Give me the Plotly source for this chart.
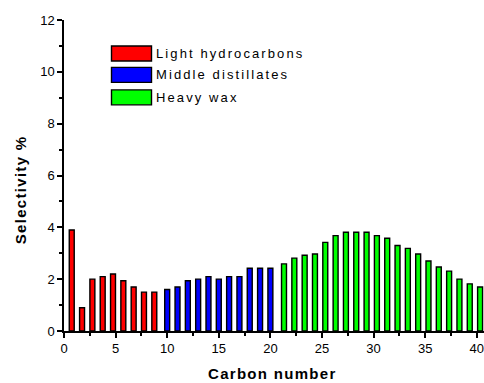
import plotly.graph_objects as go

# Data
light_x = [1, 2, 3, 4, 5, 6, 7, 8, 9]
light_y = [3.9, 0.9, 2.0, 2.1, 2.2, 1.94, 1.7, 1.5, 1.5]
middle_x = [10, 11, 12, 13, 14, 15, 16, 17, 18, 19, 20]
middle_y = [1.6, 1.7, 1.94, 2.0, 2.1, 2.0, 2.1, 2.1, 2.42, 2.42, 2.42]
heavy_x = list(range(21, 41))
heavy_y = [2.59, 2.81, 2.92, 2.97, 3.42, 3.68, 3.81, 3.81, 3.81, 3.68,
           3.58, 3.30, 3.19, 2.97, 2.70, 2.47, 2.31, 2.0, 1.82, 1.70]
series_names = ["Light hydrocarbons", "Middle distillates", "Heavy wax"]
series_colors = ["#FF0000", "#0000FF", "#00FF00"]

FONT = "Liberation Sans, Arial, sans-serif"
W = 0.48

fig = go.Figure()
for (xs, ys), name, col, shift in zip(
        [(light_x, light_y), (middle_x, middle_y), (heavy_x, heavy_y)],
        series_names, series_colors, [-0.25, 0.0, 0.32]):
    fig.add_trace(go.Bar(
        x=xs, y=ys, name=name, width=W, offset=-W / 2 + shift,
        marker=dict(color=col, line=dict(color="black", width=1.4)),
        showlegend=False))

def spaced(t, ls):
    return f'<span style="letter-spacing:{ls}px">{t}</span>'

# pixel geometry of the plot area
plot_l, plot_r, plot_t, plot_b = 64, 484, 19.5, 331
def px2paper_x(px):
    return (px - plot_l) / (plot_r - plot_l)
def px2paper_y(py):
    return (plot_b - py) / (plot_b - plot_t)

# Manual legend (wide swatches as in the original)
x0, x1 = 111.5, 151.5
for (yc, name, col) in zip([53, 74.5, 97], series_names, series_colors):
    fig.add_shape(type="rect", xref="paper", yref="paper",
                  x0=px2paper_x(x0), x1=px2paper_x(x1),
                  y0=px2paper_y(yc + 7.5), y1=px2paper_y(yc - 7.5),
                  fillcolor=col, line=dict(color="black", width=1.4))
    fig.add_annotation(xref="paper", yref="paper",
                       x=px2paper_x(154), y=px2paper_y(yc),
                       xanchor="left", yanchor="middle", showarrow=False,
                       text=spaced(name, 2.1), font=dict(family=FONT, size=13, color="black"))

# Axis titles
fig.add_annotation(xref="paper", yref="paper", x=px2paper_x(272), y=px2paper_y(374),
                   xanchor="center", yanchor="middle", showarrow=False,
                   text=spaced("<b>Carbon number</b>", 1.3),
                   font=dict(family=FONT, size=15, color="black"))
fig.add_annotation(xref="paper", yref="paper", x=px2paper_x(20), y=px2paper_y(190),
                   xanchor="center", yanchor="middle", showarrow=False, textangle=-90,
                   text=spaced("<b>Selectivity %</b>", 1.3),
                   font=dict(family=FONT, size=15, color="black"))

fig.update_layout(
    template="none",
    width=484, height=383,
    margin=dict(l=plot_l, r=484 - plot_r, t=plot_t, b=383 - plot_b, pad=0,
                autoexpand=False),
    paper_bgcolor="white", plot_bgcolor="white",
    barmode="overlay",
    font=dict(family=FONT, size=13, color="black"),
    xaxis=dict(range=[0, 40.7], tickmode="linear", tick0=0, dtick=5, automargin=False,
               ticklabeloverflow="allow",
               showline=True, linecolor="black", linewidth=1.5,
               ticks="outside", ticklen=5, tickwidth=1.5, tickcolor="black",
               minor=dict(dtick=2.5, ticks="outside", ticklen=3, tickwidth=1.5, tickcolor="black"),
               showgrid=False, zeroline=False,
               tickfont=dict(family=FONT, size=13)),
    yaxis=dict(range=[0, 12], tickmode="linear", tick0=0, dtick=2, automargin=False,
               ticklabeloverflow="allow",
               showline=True, linecolor="black", linewidth=1.5,
               ticks="outside", ticklen=5, tickwidth=1.5, tickcolor="black",
               minor=dict(dtick=1, ticks="outside", ticklen=3, tickwidth=1.5, tickcolor="black"),
               showgrid=False, zeroline=False,
               tickfont=dict(family=FONT, size=13)),
)

# remove the browser's default page margin so the 484x383 figure fills the window
fig.write_html("out.html",
               config={"displayModeBar": False},
               post_script="document.body.style.margin='0';document.body.style.overflow='hidden';")
